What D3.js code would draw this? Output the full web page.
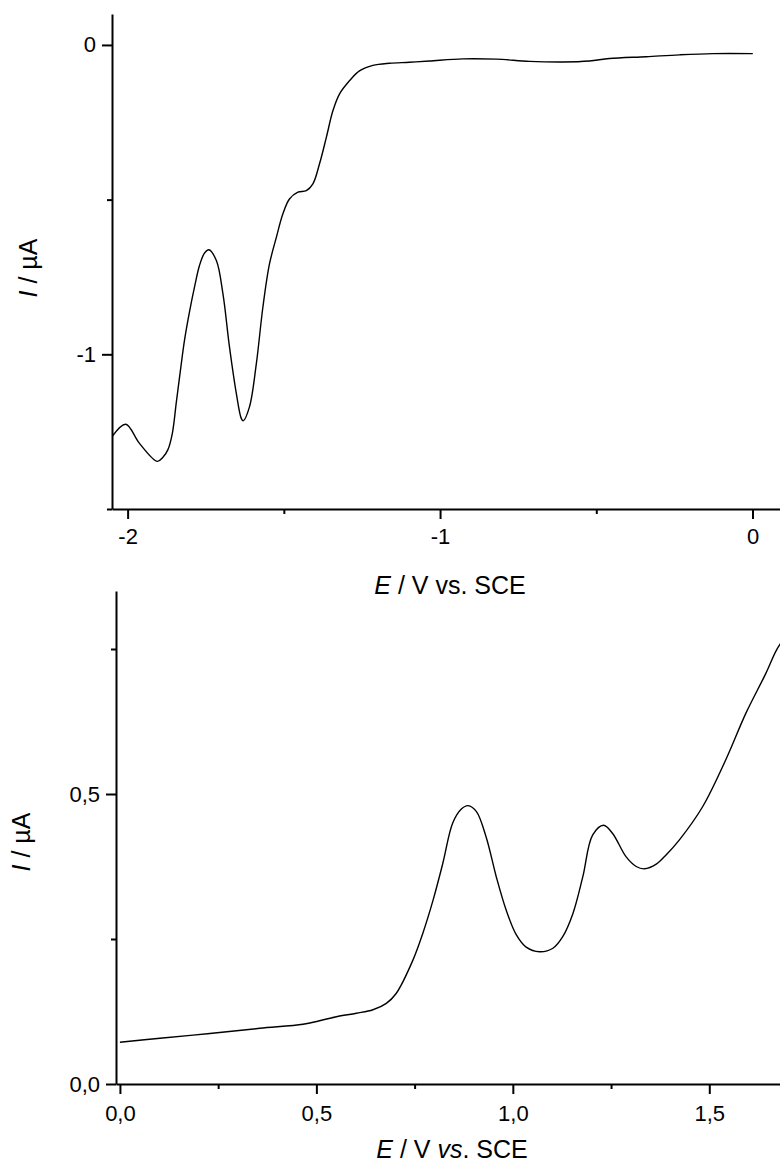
<!DOCTYPE html>
<html>
<head>
<meta charset="utf-8">
<script src="https://cdn.jsdelivr.net/npm/d3@7"></script>
<style>
  body { margin: 0; background: #fff; }
  text { font-family: "Liberation Sans", Arial, sans-serif; fill: #000; }
</style>
</head>
<body>
<svg id="svg" width="780" height="1169"></svg>
<script>
// cathodic scan (top panel)
let cathE = [-2.049, -2.006, -1.962, -1.905, -1.887, -1.871, -1.857, -1.844, -1.831, -1.818, -1.802, -1.786,
  -1.770, -1.754, -1.740, -1.716, -1.695, -1.674, -1.652, -1.636, -1.630, -1.610, -1.588, -1.567, -1.546,
  -1.524, -1.503, -1.482, -1.455, -1.428, -1.407, -1.386, -1.364, -1.343, -1.322, -1.290, -1.258, -1.215,
  -1.162, -1.098, -1.034, -0.927, -0.820, -0.714, -0.607, -0.522, -0.458, -0.340, -0.234, -0.127, 0.001];
let cathI = [-1.265, -1.226, -1.288, -1.346, -1.333, -1.308, -1.256, -1.154, -1.052, -0.955, -0.863, -0.783,
  -0.713, -0.673, -0.662, -0.697, -0.804, -0.976, -1.127, -1.208, -1.215, -1.170, -1.030, -0.847, -0.708,
  -0.622, -0.546, -0.498, -0.476, -0.471, -0.449, -0.385, -0.299, -0.213, -0.159, -0.116, -0.084, -0.066,
  -0.059, -0.056, -0.052, -0.045, -0.046, -0.053, -0.055, -0.052, -0.044, -0.038, -0.032, -0.028, -0.028];

// anodic scan (bottom panel)
let anE = [0.000, 0.102, 0.229, 0.356, 0.466, 0.508, 0.551, 0.602, 0.644, 0.678, 0.703, 0.746, 0.771,
  0.797, 0.822, 0.847, 0.869, 0.886, 0.907, 0.932, 0.958, 0.983, 1.009, 1.034, 1.068, 1.102, 1.127,
  1.153, 1.178, 1.203, 1.231, 1.254, 1.288, 1.314, 1.335, 1.365, 1.390, 1.424, 1.483, 1.542, 1.593,
  1.644, 1.671, 1.690];
let anI = [0.072, 0.079, 0.087, 0.096, 0.103, 0.109, 0.116, 0.122, 0.128, 0.139, 0.156, 0.214, 0.260,
  0.317, 0.381, 0.450, 0.474, 0.480, 0.470, 0.426, 0.357, 0.300, 0.257, 0.236, 0.228, 0.234, 0.254,
  0.294, 0.357, 0.429, 0.446, 0.432, 0.392, 0.375, 0.371, 0.379, 0.395, 0.421, 0.478, 0.559, 0.639,
  0.708, 0.748, 0.768];

let topXTicks = [-2, -1, 0], topXMinor = [-1.5, -0.5];
let topYTicks = [0, -1], topYMinor = [-0.5, -1.5];
let botXTicks = [0, 0.5, 1, 1.5], botXMinor = [0.25, 0.75, 1.25];
let botYTicks = [0, 0.5], botYMinor = [0.25, 0.75];

let svg = d3.select('#svg');

function drawPanel(opts) {
  let x = d3.scaleLinear().domain(opts.xDomain).range(opts.xRange);
  let y = d3.scaleLinear().domain(opts.yDomain).range(opts.yRange);
  let g = svg.append('g');

  g.append('clipPath').attr('id', opts.id)
    .append('rect')
    .attr('x', opts.xRange[0]).attr('y', opts.yRange[1])
    .attr('width', opts.xRange[1] - opts.xRange[0])
    .attr('height', opts.yRange[0] - opts.yRange[1]);

  let line = d3.line()
    .x((d, i) => x(opts.E[i]))
    .y(d => y(d))
    .curve(d3.curveCatmullRom.alpha(0.5));

  g.append('path')
    .attr('d', line(opts.I))
    .attr('clip-path', `url(#${opts.id})`)
    .attr('fill', 'none')
    .attr('stroke', '#000')
    .attr('stroke-width', 1.4);

  // minor ticks
  g.append('g')
    .attr('transform', `translate(0,${opts.yRange[0]})`)
    .call(d3.axisBottom(x).tickValues(opts.xMinor).tickSize(5).tickFormat(''))
    .call(a => a.select('.domain').remove());
  g.append('g')
    .attr('transform', `translate(${opts.xRange[0]},0)`)
    .call(d3.axisLeft(y).tickValues(opts.yMinor).tickSize(5).tickFormat(''))
    .call(a => a.select('.domain').remove());

  let gx = g.append('g')
    .attr('transform', `translate(0,${opts.yRange[0]})`)
    .call(d3.axisBottom(x).tickValues(opts.xTicks).tickSize(10).tickSizeOuter(0)
      .tickPadding(opts.xPad).tickFormat(opts.fmt));
  let gy = g.append('g')
    .attr('transform', `translate(${opts.xRange[0]},0)`)
    .call(d3.axisLeft(y).tickValues(opts.yTicks).tickSize(10).tickSizeOuter(0)
      .tickPadding(6).tickFormat(opts.fmt));

  [gx, gy].forEach(a => {
    a.selectAll('text').attr('font-size', 22).attr('fill', '#000')
      .style('font-family', '"Liberation Sans", Arial, sans-serif');
  });
  g.selectAll('.domain, .tick line').attr('stroke', '#000').attr('stroke-width', 2);

  let xl = g.append('text')
    .attr('x', opts.xLabel[0]).attr('y', opts.xLabel[1])
    .attr('text-anchor', 'middle')
    .attr('font-size', 25);
  xl.append('tspan').attr('font-style', 'italic').text('E');
  xl.append('tspan').text(' / V ');
  if (opts.italicVs) {
    xl.append('tspan').attr('font-style', 'italic').text('vs');
    xl.append('tspan').text('. SCE');
  } else {
    xl.append('tspan').text('vs. SCE');
  }

  let yl = g.append('text')
    .attr('transform', `translate(${opts.yLabel[0]},${opts.yLabel[1]}) rotate(-90)`)
    .attr('text-anchor', 'middle')
    .attr('font-size', 25);
  yl.append('tspan').attr('font-style', 'italic').text('I');
  yl.append('tspan').text(' / µA');
}

let fmtTop = d => String(d);
let fmtBot = d => d3.format('.1f')(d).replace('.', ',');

drawPanel({
  id: 'clipTop', E: cathE, I: cathI,
  xDomain: [-2.05, 0.088], xRange: [112, 780],
  yDomain: [-1.5, 0.1], yRange: [509, 14],
  xTicks: topXTicks, xMinor: topXMinor, yTicks: topYTicks, yMinor: topYMinor,
  fmt: fmtTop, xPad: 9, xLabel: [450, 594], yLabel: [37, 268], italicVs: false
});

drawPanel({
  id: 'clipBot', E: anE, I: anI,
  xDomain: [-0.01, 1.68], xRange: [116, 780],
  yDomain: [0, 0.85], yRange: [1084, 591],
  xTicks: botXTicks, xMinor: botXMinor, yTicks: botYTicks, yMinor: botYMinor,
  fmt: fmtBot, xPad: 11, xLabel: [452, 1158], yLabel: [30, 842], italicVs: true
});
</script>
</body>
</html>
